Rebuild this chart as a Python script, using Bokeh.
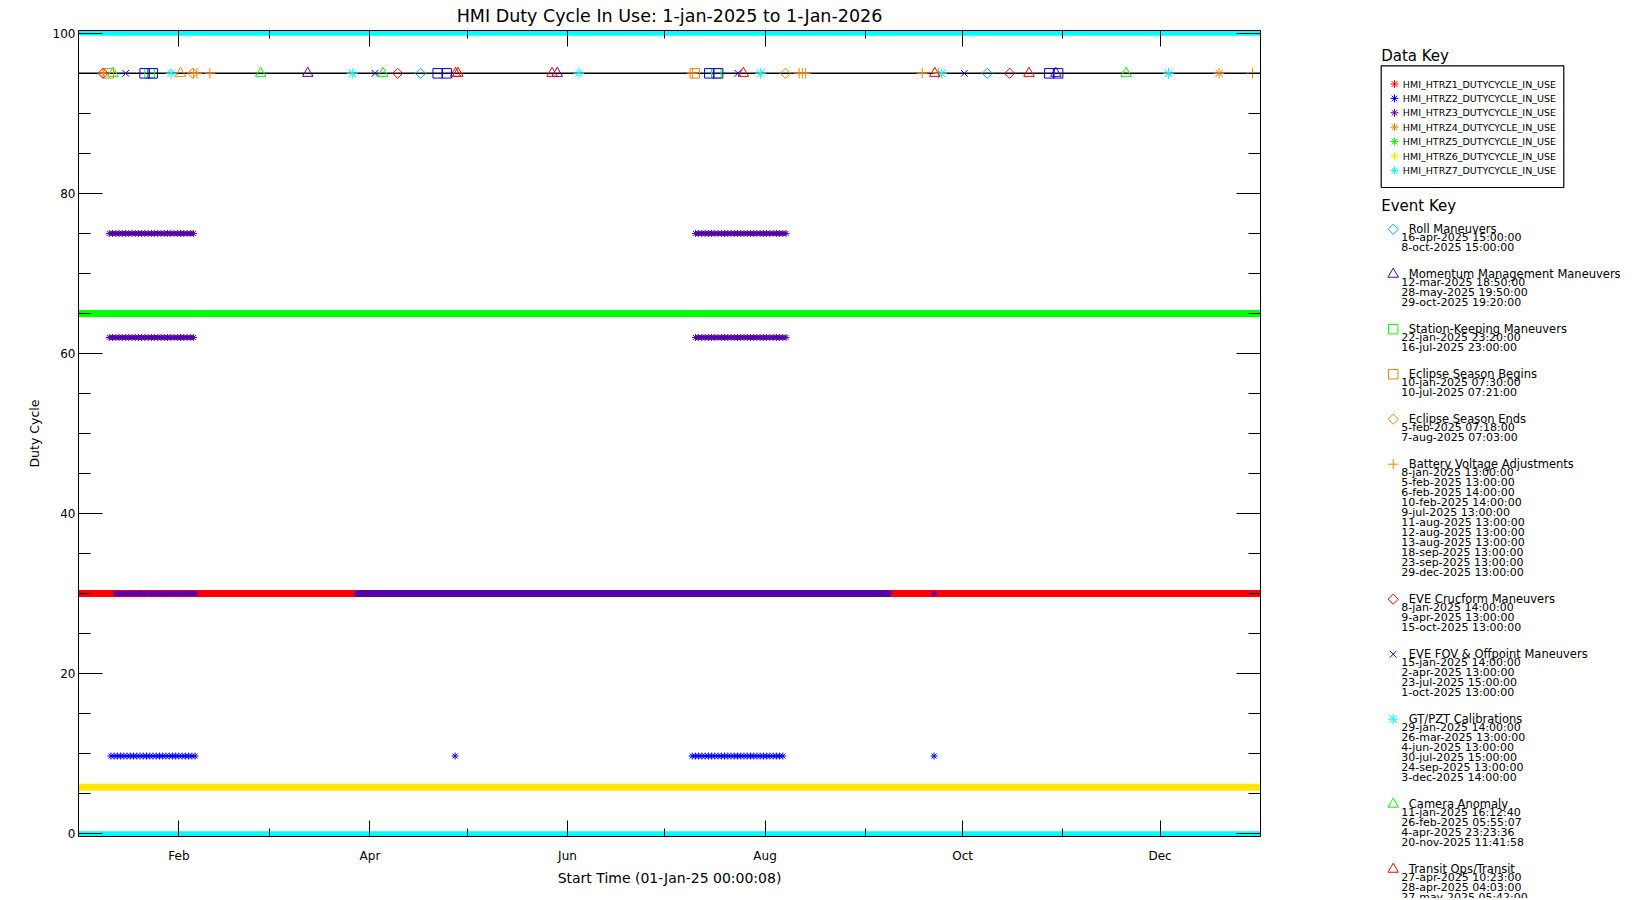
import math
from datetime import datetime

from bokeh.plotting import figure
from bokeh.models import Range1d, LinearAxis, FixedTicker, Span
from bokeh.layouts import row
from bokeh.core.properties import value
from bokeh.embed import file_html
from bokeh.resources import INLINE

FONT = "DejaVu Sans"
YEAR_START = datetime(2025, 1, 1)
YEAR_DAYS = 365

TITLE = "HMI Duty Cycle In Use: 1-jan-2025 to 1-Jan-2026"
X_LABEL = "Start Time (01-Jan-25 00:00:08)"
Y_LABEL = "Duty Cycle"

# ---- axis ticks (day of year, 0 = 1-jan-2025) ----
MONTH_TICK_DAYS = [31, 90, 151, 212, 273, 334]
MONTH_TICK_LABELS = ["Feb", "Apr", "Jun", "Aug", "Oct", "Dec"]
MONTH_MINOR_DAYS = [0, 59, 120, 181, 243, 304, 365]
Y_TICKS = [0, 20, 40, 60, 80, 100]
Y_MINOR_TICKS = [5, 10, 15, 25, 30, 35, 45, 50, 55, 65, 70, 75, 85, 90, 95]

# ---- data series ----
SERIES_NAMES = ["HMI_HTRZ1_DUTYCYCLE_IN_USE", "HMI_HTRZ2_DUTYCYCLE_IN_USE",
                "HMI_HTRZ3_DUTYCYCLE_IN_USE", "HMI_HTRZ4_DUTYCYCLE_IN_USE",
                "HMI_HTRZ5_DUTYCYCLE_IN_USE", "HMI_HTRZ6_DUTYCYCLE_IN_USE",
                "HMI_HTRZ7_DUTYCYCLE_IN_USE"]
SERIES_COLORS = ["#FF0000", "#0000FF", "#5500AA", "#FF8000", "#00FF00", "#FFE500", "#00FFFF"]

# long constant stretches: start day, end day, duty cycle
Z1_RUN_START = [0.0]
Z1_RUN_END = [365.0]
Z1_RUN_LEVEL = [30.0]
Z3_RUN_START = [85.8]
Z3_RUN_END = [250.5]
Z3_RUN_LEVEL = [30.0]
Z5_RUN_START = [0.0]
Z5_RUN_END = [365.0]
Z5_RUN_LEVEL = [65.0]
Z6_RUN_START = [0.0]
Z6_RUN_END = [365.0]
Z6_RUN_LEVEL = [5.8]
Z7_RUN_START = [0.0, 0.0]
Z7_RUN_END = [365.0, 365.0]
Z7_RUN_LEVEL = [100.0, 0.0]

# individual samples (day of year)
Z2_DAYS = [10, 11, 12, 13, 14, 15, 16, 17, 18, 19, 20, 21, 22, 23, 24, 25, 26, 27, 28,
           29, 30, 31, 32, 33, 34, 35, 36,
           116.3,
           189.5, 190.5, 191.5, 192.5, 193.5, 194.5, 195.5, 196.5, 197.5, 198.5, 199.5,
           200.5, 201.5, 202.5, 203.5, 204.5, 205.5, 206.5, 207.5, 208.5, 209.5, 210.5,
           211.5, 212.5, 213.5, 214.5, 215.5, 216.5, 217.5,
           264.2]
Z2_LEVEL = 9.7

Z3_ECLIPSE_DAYS = [9.5, 10.5, 11.5, 12.5, 13.5, 14.5, 15.5, 16.5, 17.5, 18.5, 19.5, 20.5,
                   21.5, 22.5, 23.5, 24.5, 25.5, 26.5, 27.5, 28.5, 29.5, 30.5, 31.5, 32.5,
                   33.5, 34.5, 35.5,
                   190.5, 191.5, 192.5, 193.5, 194.5, 195.5, 196.5, 197.5, 198.5, 199.5,
                   200.5, 201.5, 202.5, 203.5, 204.5, 205.5, 206.5, 207.5, 208.5, 209.5,
                   210.5, 211.5, 212.5, 213.5, 214.5, 215.5, 216.5, 217.5, 218.5]
Z3_HIGH_LEVEL = 75.0
Z3_MID_LEVEL = 62.0
Z3_LOW_DAYS = [11.5, 12.5, 13.5, 14.5, 15.5, 16.5, 17.5, 18.5, 19.5, 20.5, 21.5, 22.5,
               23.5, 24.5, 25.5, 26.5, 27.5, 28.5, 29.5, 30.5, 31.5, 32.5, 33.5, 34.5,
               35.5, 36.2, 85.8, 250.5, 264.2]
Z3_LOW_LEVEL = 30.0

# ---- events ----
EVENT_LEVEL = 95.0
EVENT_NAMES = ["Roll Maneuvers", "Momentum Management Maneuvers", "Station-Keeping Maneuvers",
               "Eclipse Season Begins", "Eclipse Season Ends", "Battery Voltage Adjustments",
               "EVE Crucform Maneuvers", "EVE FOV & Offpoint Maneuvers", "GT/PZT Calibrations",
               "Camera Anomaly", "Transit Ops/Transit"]
EVENT_COLORS = ["#00B0FF", "#5500AA", "#00FF00", "#FF8000", "#FF8000", "#FF8000",
                "#FF0000", "#0000FF", "#00FFFF", "#00FF00", "#FF0000"]
EVENT_MARKERS = ["diamond", "triangle", "square", "square", "diamond", "cross",
                 "diamond", "x", "asterisk", "triangle", "triangle"]
EVENT_DATES = [
    ["16-apr-2025 15:00:00", "8-oct-2025 15:00:00"],
    ["12-mar-2025 18:50:00", "28-may-2025 19:50:00", "29-oct-2025 19:20:00"],
    ["22-jan-2025 23:20:00", "16-jul-2025 23:00:00"],
    ["10-jan-2025 07:30:00", "10-jul-2025 07:21:00"],
    ["5-feb-2025 07:18:00", "7-aug-2025 07:03:00"],
    ["8-jan-2025 13:00:00", "5-feb-2025 13:00:00", "6-feb-2025 14:00:00", "10-feb-2025 14:00:00",
     "9-jul-2025 13:00:00", "11-aug-2025 13:00:00", "12-aug-2025 13:00:00", "13-aug-2025 13:00:00",
     "18-sep-2025 13:00:00", "23-sep-2025 13:00:00", "29-dec-2025 13:00:00"],
    ["8-jan-2025 14:00:00", "9-apr-2025 13:00:00", "15-oct-2025 13:00:00"],
    ["15-jan-2025 14:00:00", "2-apr-2025 13:00:00", "23-jul-2025 15:00:00", "1-oct-2025 13:00:00"],
    ["29-jan-2025 14:00:00", "26-mar-2025 13:00:00", "4-jun-2025 13:00:00", "30-jul-2025 15:00:00",
     "24-sep-2025 13:00:00", "3-dec-2025 14:00:00"],
    ["11-jan-2025 16:12:40", "26-feb-2025 05:55:07", "4-apr-2025 23:23:36", "20-nov-2025 11:41:58"],
    ["27-apr-2025 10:23:00", "28-apr-2025 04:03:00", "27-may-2025 05:42:00",
     "25-jul-2025 07:00:00", "22-sep-2025 10:00:00", "21-oct-2025 12:00:00"],
]
# events whose key entries lie below the visible page
UNLISTED_COLORS = ["#0000FF", "#FF8000", "#FF8000"]
UNLISTED_MARKERS = ["square", "triangle", "asterisk"]
UNLISTED_DATES = [
    ["21-jan-2025 10:00:00", "23-jan-2025 22:00:00", "21-apr-2025 22:00:00", "24-apr-2025 17:00:00",
     "14-jul-2025 19:00:00", "17-jul-2025 12:00:00", "27-oct-2025 19:00:00", "30-oct-2025 12:00:00"],
    ["1-feb-2025 12:00:00"],
    ["19-dec-2025 05:00:00"],
]

MARKER_SIZE = {"diamond": 7.2, "triangle": 10.5, "square": 9.5, "cross": 10.5, "x": 9.5, "asterisk": 10.5}

# ---- page geometry ----
MAIN_W, KEY_W, PAGE_H = 1270, 372, 898
BORDER_TOP, BORDER_BOTTOM = 30, PAGE_H - 836


def day_of_year(stamp):
    t = datetime.strptime(stamp, "%d-%b-%Y %H:%M:%S")
    return (t - YEAR_START).total_seconds() / 86400.0


def with_breaks(days, level, gap=2.0):
    xs, ys = [], []
    for i, d in enumerate(days):
        if i and d - days[i - 1] > gap:
            xs.append(float("nan"))
            ys.append(float("nan"))
        xs.append(d)
        ys.append(level)
    return xs, ys


def draw_marker(fig, xs, ys, marker, color):
    angle = math.pi / 4 if marker == "diamond" else 0.0
    glyph = "square" if marker == "diamond" else marker
    fig.scatter(xs, ys, marker=glyph, size=MARKER_SIZE[marker], angle=angle,
                line_color=color, fill_color=None, line_width=1)


def no_frame_align(fig):
    if "frame_align" in fig.properties():
        fig.frame_align = False


# ================= main plot =================
p = figure(width=MAIN_W, height=PAGE_H, x_range=Range1d(0, YEAR_DAYS),
           y_range=Range1d(-0.35, 100.35),
           output_backend="svg", toolbar_location=None,
           x_axis_location=None, y_axis_location=None,
           min_border_left=78, min_border_right=10,
           min_border_top=BORDER_TOP, min_border_bottom=BORDER_BOTTOM)
p.grid.visible = False
p.outline_line_color = None
p.background_fill_color = "white"
p.border_fill_color = "white"
no_frame_align(p)

x_ticker = FixedTicker(ticks=MONTH_TICK_DAYS, minor_ticks=MONTH_MINOR_DAYS)
y_ticker = FixedTicker(ticks=Y_TICKS, minor_ticks=Y_MINOR_TICKS)


def base_axis(ticker, major_len, minor_len):
    ax = LinearAxis(ticker=ticker)
    ax.major_tick_in = major_len
    ax.major_tick_out = 0
    ax.minor_tick_in = minor_len
    ax.minor_tick_out = 0
    ax.axis_line_color = "black"
    ax.axis_line_width = 1
    ax.major_tick_line_color = "black"
    ax.minor_tick_line_color = "black"
    ax.major_label_text_font = FONT
    ax.major_label_text_color = "black"
    ax.axis_label_text_font = FONT
    ax.axis_label_text_font_style = "normal"
    ax.axis_label_text_color = "black"
    return ax


def hide_labels(ax):
    ax.major_label_text_color = None
    ax.major_label_text_font_size = "1px"
    ax.major_label_standoff = 0


bottom = base_axis(x_ticker, 16, 8)
bottom.major_label_overrides = {d: lab for d, lab in zip(MONTH_TICK_DAYS, MONTH_TICK_LABELS)}
bottom.major_label_text_font_size = "12px"
bottom.major_label_standoff = 12
bottom.axis_label = X_LABEL
bottom.axis_label_text_font_size = "14px"
bottom.axis_label_standoff = 4
p.add_layout(bottom, "below")

top = base_axis(x_ticker, 16, 8)
hide_labels(top)
top.axis_label = TITLE
top.axis_label_text_font_size = "17.5px"
top.axis_label_standoff = 5
p.add_layout(top, "above")

left = base_axis(y_ticker, 24, 12)
left.major_label_text_font_size = "12px"
left.major_label_standoff = 3
left.axis_label = Y_LABEL
left.axis_label_text_font_size = "12.5px"
left.axis_label_standoff = 8
p.add_layout(left, "left")

right = base_axis(y_ticker, 24, 12)
hide_labels(right)
p.add_layout(right, "right")

# Z1 red
p.segment(Z1_RUN_START, Z1_RUN_LEVEL, Z1_RUN_END, Z1_RUN_LEVEL, line_color=SERIES_COLORS[0], line_width=7)
# Z2 blue samples
bx, by = with_breaks(Z2_DAYS, Z2_LEVEL)
p.line(bx, by, line_color=SERIES_COLORS[1], line_width=1.5)
p.scatter(Z2_DAYS, [Z2_LEVEL] * len(Z2_DAYS), marker="asterisk", size=7,
          line_color=SERIES_COLORS[1], line_width=1)
# Z3 purple
p.segment(Z3_RUN_START, Z3_RUN_LEVEL, Z3_RUN_END, Z3_RUN_LEVEL, line_color=SERIES_COLORS[2], line_width=7)
for days, level in ((Z3_ECLIPSE_DAYS, Z3_HIGH_LEVEL), (Z3_ECLIPSE_DAYS, Z3_MID_LEVEL),
                    (Z3_LOW_DAYS, Z3_LOW_LEVEL)):
    lx, ly = with_breaks(days, level)
    p.line(lx, ly, line_color=SERIES_COLORS[2], line_width=4)
    p.scatter(days, [level] * len(days), marker="asterisk", size=7,
              line_color=SERIES_COLORS[2], line_width=1)
# Z5 green, Z6 yellow, Z7 cyan
p.segment(Z5_RUN_START, Z5_RUN_LEVEL, Z5_RUN_END, Z5_RUN_LEVEL, line_color=SERIES_COLORS[4], line_width=7)
p.segment(Z6_RUN_START, Z6_RUN_LEVEL, Z6_RUN_END, Z6_RUN_LEVEL, line_color=SERIES_COLORS[5], line_width=7)
p.segment(Z7_RUN_START, Z7_RUN_LEVEL, Z7_RUN_END, Z7_RUN_LEVEL, line_color=SERIES_COLORS[6], line_width=5)

# event baseline + markers
p.add_layout(Span(location=EVENT_LEVEL, dimension="width", line_color="black",
                  line_width=1.5, level="underlay"))
for color, marker, dates in zip(EVENT_COLORS, EVENT_MARKERS, EVENT_DATES):
    xs = [day_of_year(s) for s in dates]
    draw_marker(p, xs, [EVENT_LEVEL] * len(xs), marker, color)
for color, marker, dates in zip(UNLISTED_COLORS, UNLISTED_MARKERS, UNLISTED_DATES):
    xs = [day_of_year(s) for s in dates]
    draw_marker(p, xs, [EVENT_LEVEL] * len(xs), marker, color)

# ================= key panel (coordinates = page pixels) =================
leg = figure(width=KEY_W, height=PAGE_H, x_range=Range1d(MAIN_W, MAIN_W + KEY_W),
             y_range=Range1d(PAGE_H, 0),
             output_backend="svg", toolbar_location=None,
             x_axis_location=None, y_axis_location=None, min_border=0)
leg.grid.visible = False
leg.outline_line_color = None
leg.background_fill_color = "white"
leg.border_fill_color = "white"
leg.title.visible = False
no_frame_align(leg)

key_x, key_y, key_t, key_s = [], [], [], []


def put_text(x, y, txt, size):
    if y - 6 < PAGE_H:      # only lines that reach the visible page
        key_x.append(x)
        key_y.append(y)
        key_t.append(txt)
        key_s.append(size)


put_text(1380.7, 55, "Data Key", "15px")
leg.quad(left=[1380.7], right=[1563.3], top=[65.3], bottom=[187],
         fill_color=None, line_color="black", line_width=1.2)
for i, (name, color) in enumerate(zip(SERIES_NAMES, SERIES_COLORS)):
    ry = 83.5 + 14.4 * i
    leg.scatter([1394], [ry], marker="asterisk", size=8, line_color=color, line_width=1)
    put_text(1402.3, ry, name, "9.5px")

put_text(1380.7, 205.7, "Event Key", "15px")
ty = 228.7
for name, color, marker, dates in zip(EVENT_NAMES, EVENT_COLORS, EVENT_MARKERS, EVENT_DATES):
    draw_marker(leg, [1392.7], [ty], marker, color)
    put_text(1408.3, ty, name, "11.5px")
    for k, d in enumerate(dates):
        put_text(1400.7, ty + 8.6 + 10 * k, d, "11px")
    ty += 10 * len(dates) + 25

leg.text(x=key_x, y=key_y, text=key_t, text_font_size=key_s, text_font=value(FONT),
         text_baseline="middle", text_align="left", text_color="black")

layout = row(p, leg)
open("out.html", "w").write(file_html(layout, INLINE, title="HMI Duty Cycle"))
